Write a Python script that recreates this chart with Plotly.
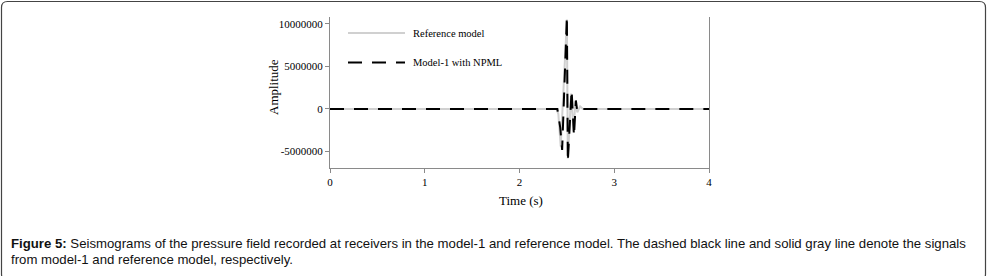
import plotly.graph_objects as go

# ---- data ----
t_reference = [0, 2.39, 2.41, 2.435, 2.50, 2.51, 2.545, 2.57, 2.59, 2.61, 2.64, 2.67, 4.0]
amp_reference = [0, 0, -0.6e6, -4.4e6, 10.5e6, -5.8e6, 1.8e6, -2.6e6, 0.9e6, -0.4e6, 0.3e6, 0, 0]

t_model1 = [0, 2.40, 2.43, 2.45, 2.50, 2.51, 2.55, 2.575, 2.595, 2.61, 2.63, 4.0]
amp_model1 = [0, 0, -2.2e6, -4.8e6, 10.9e6, -6.2e6, 2.2e6, -3.2e6, 1.0e6, -0.3e6, 0, 0]

x_ticks = [0, 1, 2, 3, 4]
y_ticks = [-5000000, 0, 5000000, 10000000]
y_tick_labels = ["-5000000", "0", "5000000", "10000000"]

legend_names = ["Reference model", "Model-1 with NPML"]

# ---- layout geometry (page pixels) ----
W, H = 988, 276
L, R, T, B = 330, 709, 17, 168  # plot area


def px(x):
    return (x - L) / (R - L)


def py(y):
    return (B - y) / (B - T)


serif = "Liberation Serif, Times New Roman, serif"
sans = "Liberation Sans, Arial, sans-serif"

fig = go.Figure()
fig.add_trace(go.Scatter(
    x=t_reference, y=amp_reference, mode="lines", name=legend_names[0],
    line=dict(color="#d0d0d0", width=2), cliponaxis=False, showlegend=False,
))
fig.add_trace(go.Scatter(
    x=t_model1, y=amp_model1, mode="lines", name=legend_names[1],
    line=dict(color="black", width=2, dash="14px,10px"), cliponaxis=False, showlegend=False,
))

axis_col = "#8a8a8a"
fig.update_xaxes(
    range=[0, 4], tickvals=x_ticks, showgrid=False, zeroline=False,
    showline=True, linecolor=axis_col, linewidth=1,
    ticks="outside", ticklen=4, tickcolor=axis_col,
    tickfont=dict(family=serif, size=11, color="black"),
)
fig.update_yaxes(
    range=[-6.93e6, 10.8e6], tickvals=y_ticks, ticktext=y_tick_labels,
    showgrid=False, zeroline=False,
    showline=True, mirror=True, linecolor=axis_col, linewidth=1,
    ticks="outside", ticklen=4, tickcolor=axis_col,
    tickfont=dict(family=serif, size=11, color="black"),
)

shapes = []
# manual legend samples
shapes.append(dict(type="line", xref="paper", yref="paper",
                   x0=px(348), x1=px(405), y0=py(33), y1=py(33),
                   line=dict(color="#d0d0d0", width=2)))
shapes.append(dict(type="line", xref="paper", yref="paper",
                   x0=px(348), x1=px(405), y0=py(62.5), y1=py(62.5),
                   line=dict(color="black", width=2, dash="14px,10px")))

# rounded border around the whole figure
x0, x1, y0, y1, r = 1.5, 985.5, 1.5, 280, 6
path = (f"M{px(x0 + r):.5f},{py(y0):.5f}L{px(x1 - r):.5f},{py(y0):.5f}"
        f"Q{px(x1):.5f},{py(y0):.5f} {px(x1):.5f},{py(y0 + r):.5f}"
        f"L{px(x1):.5f},{py(y1 - r):.5f}Q{px(x1):.5f},{py(y1):.5f} {px(x1 - r):.5f},{py(y1):.5f}"
        f"L{px(x0 + r):.5f},{py(y1):.5f}Q{px(x0):.5f},{py(y1):.5f} {px(x0):.5f},{py(y1 - r):.5f}"
        f"L{px(x0):.5f},{py(y0 + r):.5f}Q{px(x0):.5f},{py(y0):.5f} {px(x0 + r):.5f},{py(y0):.5f}Z")
shapes.append(dict(type="path", xref="paper", yref="paper", path=path,
                   line=dict(color="#444444", width=1.2), layer="above"))

annotations = [
    dict(text=legend_names[0], x=px(411), y=py(33), xref="paper", yref="paper",
         xanchor="left", yanchor="middle", showarrow=False,
         font=dict(family=serif, size=10.5, color="black")),
    dict(text=legend_names[1], x=px(411), y=py(62.5), xref="paper", yref="paper",
         xanchor="left", yanchor="middle", showarrow=False,
         font=dict(family=serif, size=10.5, color="black")),
    dict(text="Amplitude", x=px(273), y=py(87), xref="paper", yref="paper",
         textangle=-90, xanchor="center", yanchor="middle", showarrow=False,
         font=dict(family=serif, size=13, color="black")),
    dict(text="Time (s)", x=px(521), y=py(200), xref="paper", yref="paper",
         xanchor="center", yanchor="middle", showarrow=False,
         font=dict(family=serif, size=13, color="black")),
    dict(text="<b>Figure 5:</b> Seismograms of the pressure field recorded at receivers in the model-1 and reference model. The dashed black line and solid gray line denote the signals",
         x=px(9), y=py(243), xref="paper", yref="paper",
         xanchor="left", yanchor="middle", showarrow=False,
         font=dict(family=sans, size=13.2, color="#111111")),
    dict(text="from model-1 and reference model, respectively.",
         x=px(9), y=py(259), xref="paper", yref="paper",
         xanchor="left", yanchor="middle", showarrow=False,
         font=dict(family=sans, size=13.2, color="#111111")),
]

fig.update_layout(
    width=W, height=H,
    margin=dict(l=L, r=W - R, t=T, b=H - B, pad=0),
    paper_bgcolor="white", plot_bgcolor="white",
    shapes=shapes, annotations=annotations,
    showlegend=False,
)

fig.write_html(
    "out.html",
    config={"displayModeBar": False},
    post_script="document.body.style.margin='0px';",
)
